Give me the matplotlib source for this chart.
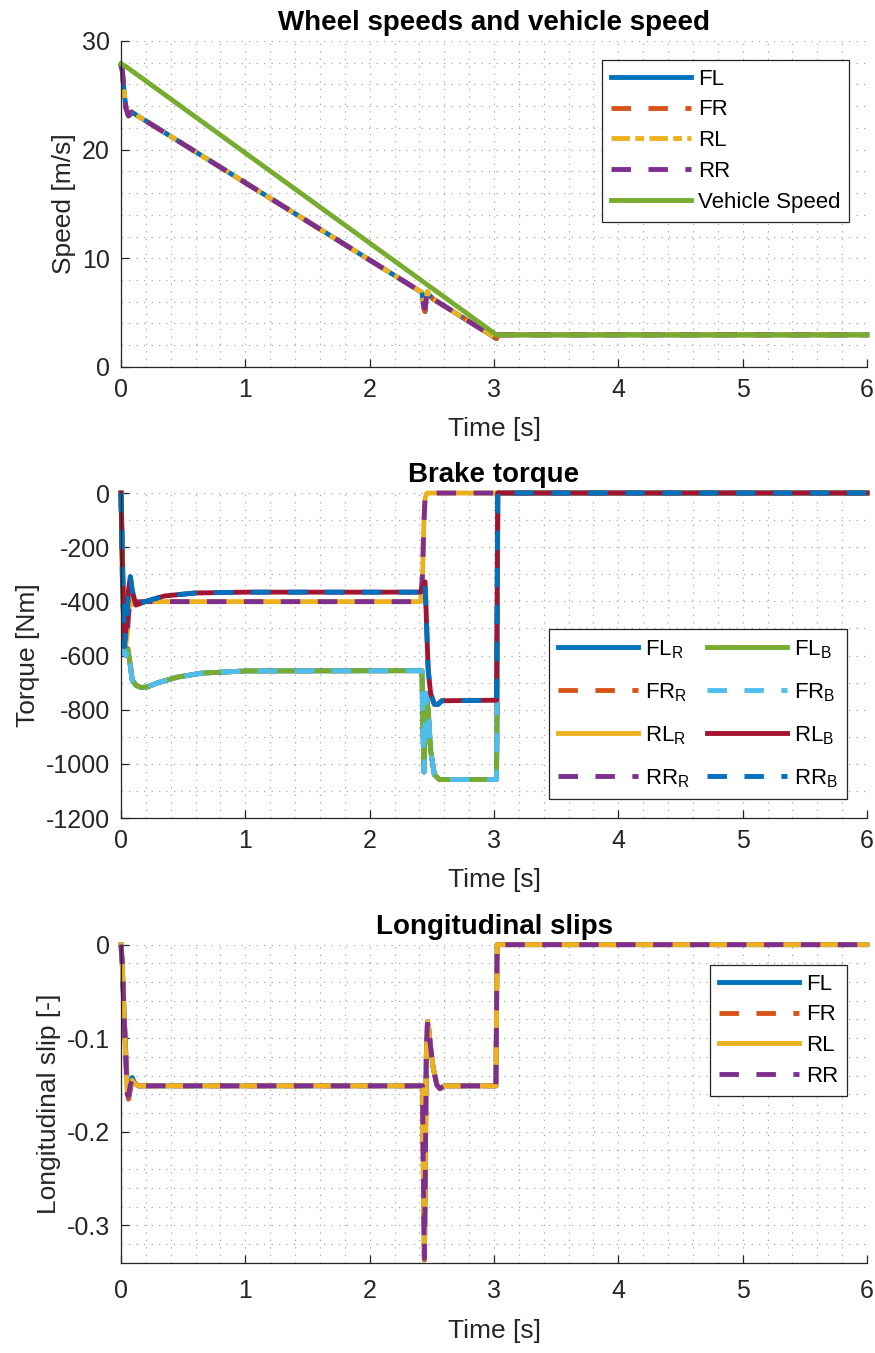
import matplotlib.pyplot as plt
from matplotlib.ticker import MultipleLocator

plt.rcParams['font.family'] = ['Liberation Sans', 'DejaVu Sans']
plt.rcParams['mathtext.fontset'] = 'custom'
plt.rcParams['mathtext.rm'] = 'Liberation Sans'
plt.rcParams['mathtext.it'] = 'Liberation Sans'
plt.rcParams['axes.unicode_minus'] = False

# MATLAB default colour order
c_blue = '#0072BD'
c_orange = '#D95319'
c_yellow = '#EDB120'
c_purple = '#7E2F8E'
c_green = '#77AC30'
c_cyan = '#4DBEEE'
c_red = '#A2142F'

# --- wheel speeds / vehicle speed [m/s] ---
t_vehicle = [0, 0.05, 3.02, 6]
v_vehicle = [27.9, 27.55, 2.95, 2.95]

t_wheel = [0, 0.01, 0.025, 0.04, 0.06, 0.07, 0.085, 2.42, 2.435, 2.445,
           2.455, 2.465, 2.48, 2.51, 3.02, 3.03, 6]
w_front = [27.7, 27.3, 25.3, 23.8, 23.1, 23.2, 23.45, 6.85, 5.4, 5.1,
           6.3, 6.9, 6.6, 6.25, 2.6, 2.95, 2.95]
w_rear = [27.7, 27.3, 25.3, 23.8, 23.1, 23.2, 23.45, 6.85, 5.6, 5.4,
          6.3, 6.95, 6.6, 6.25, 2.6, 2.95, 2.95]

# --- brake torque [Nm] ---
t_rear_R = [0, 0.01, 0.03, 0.05, 0.07, 0.09, 0.12, 0.2, 2.41, 2.425,
            2.435, 2.445, 2.46, 6]
T_rear_R = [0, -300, -590, -520, -390, -410, -402, -401, -401, -300,
            -120, -20, 0, 0]

t_rear_B = [0, 0.01, 0.027, 0.045, 0.06, 0.075, 0.09, 0.12, 0.2, 0.35,
            0.6, 1.0, 2.405, 2.43, 2.445, 2.455, 2.47, 2.49, 2.52, 2.55,
            2.58, 3.02, 3.03, 6]
T_rear_B = [0, -250, -567, -480, -360, -309, -360, -414, -400, -380,
            -369, -366, -366, -345, -328, -450, -650, -740, -780, -780,
            -767, -765, 0, 0]

t_front_B = [0, 0.01, 0.025, 0.04, 0.055, 0.07, 0.09, 0.12, 0.16, 0.21,
             0.3, 0.45, 0.65, 1.0, 2.42, 2.43, 2.437, 2.447, 2.455, 2.47,
             2.49, 2.52, 2.56, 3.02, 3.025, 3.03, 6]
T_front_B = [0, -200, -590, -600, -575, -620, -690, -710, -718, -716,
             -700, -680, -665, -657, -656, -900, -1030, -850, -740, -800,
             -950, -1040, -1058, -1058, -765, 0, 0]

# --- longitudinal slips [-] ---
t_slip = [0, 0.01, 0.03, 0.05, 0.06, 0.075, 0.09, 0.11, 0.14, 0.2, 2.425,
          2.432, 2.44, 2.447, 2.455, 2.465, 2.475, 2.49, 2.51, 2.54, 2.565,
          2.6, 3.015, 3.025, 6]
s_front = [0, -0.02, -0.09, -0.15, -0.165, -0.155, -0.142, -0.148, -0.151,
           -0.151, -0.151, -0.25, -0.337, -0.25, -0.12, -0.082, -0.09,
           -0.11, -0.131, -0.15, -0.154, -0.151, -0.151, 0, 0]
s_rear = [0, -0.02, -0.095, -0.16, -0.162, -0.15, -0.145, -0.149, -0.151,
          -0.151, -0.151, -0.25, -0.335, -0.25, -0.12, -0.082, -0.09,
          -0.11, -0.131, -0.15, -0.154, -0.151, -0.151, 0, 0]

lw = 3.5
dashed = (0, (4, 3.6))
dashdot = (0, (3.8, 1.1, 1.8, 1.1))

fig = plt.figure(figsize=(8.75, 13.53), dpi=100)
ax1 = fig.add_axes([0.1383, 0.7288, 0.8526, 0.2410])
ax2 = fig.add_axes([0.1383, 0.3954, 0.8526, 0.2402])
ax3 = fig.add_axes([0.1383, 0.0668, 0.8526, 0.2350])

tick_fs = 18
label_fs = 19
title_fs = 20
leg_fs = 16


def style(ax):
    ax.set_xlim(0, 6)
    ax.xaxis.set_major_locator(MultipleLocator(1))
    ax.xaxis.set_minor_locator(MultipleLocator(0.2))
    ax.set_axisbelow(True)
    ax.grid(which='both', linestyle=(0, (1, 5)), color='#a8a8a8', linewidth=0.9)
    for s in ['top', 'right']:
        ax.spines[s].set_visible(False)
    for s in ['left', 'bottom']:
        ax.spines[s].set_color('#262626')
        ax.spines[s].set_linewidth(0.9)
    ax.tick_params(which='major', direction='in', length=6, width=0.9, pad=8,
                   color='#262626', labelcolor='#262626', labelsize=tick_fs)
    ax.tick_params(which='minor', length=0)
    ax.set_xlabel('Time [s]', fontsize=label_fs, color='#262626', labelpad=11)


def legend(ax, x, y, **kw):
    leg = ax.legend(loc='upper right', bbox_to_anchor=(x, y), fontsize=leg_fs,
                    fancybox=False, framealpha=1, edgecolor='#262626',
                    borderaxespad=0, handlelength=3.6, handletextpad=0.3,
                    borderpad=0.4, **kw)
    leg.get_frame().set_linewidth(0.9)
    return leg


# top: speeds
ax1.plot(t_wheel, w_front, color=c_blue, lw=lw, label='FL', clip_on=False)
ax1.plot(t_wheel, w_front, color=c_orange, lw=lw, ls=dashed, label='FR', clip_on=False)
ax1.plot(t_wheel, w_rear, color=c_yellow, lw=lw, ls=dashdot, label='RL', clip_on=False)
ax1.plot(t_wheel, w_rear, color=c_purple, lw=lw, ls=dashed, label='RR', clip_on=False)
ax1.plot(t_vehicle, v_vehicle, color=c_green, lw=lw, label='Vehicle Speed', clip_on=False)
style(ax1)
ax1.set_ylim(0, 30)
ax1.yaxis.set_major_locator(MultipleLocator(10))
ax1.yaxis.set_minor_locator(MultipleLocator(2))
ax1.set_ylabel('Speed [m/s]', fontsize=label_fs, color='#262626')
ax1.set_title('Wheel speeds and vehicle speed', fontsize=title_fs, fontweight='bold', pad=8)
legend(ax1, 0.976, 0.942, labelspacing=0.44)

# middle: brake torque
ax2.plot(t_front_B, T_front_B, color=c_blue, lw=lw, label=r'FL$_\mathrm{R}$', clip_on=False)
ax2.plot(t_front_B, T_front_B, color=c_orange, lw=lw, ls=dashed, label=r'FR$_\mathrm{R}$', clip_on=False)
ax2.plot(t_rear_R, T_rear_R, color=c_yellow, lw=lw, label=r'RL$_\mathrm{R}$', clip_on=False)
ax2.plot(t_rear_R, T_rear_R, color=c_purple, lw=lw, ls=dashed, label=r'RR$_\mathrm{R}$', clip_on=False)
ax2.plot(t_front_B, T_front_B, color=c_green, lw=lw, label=r'FL$_\mathrm{B}$', clip_on=False)
ax2.plot(t_front_B, T_front_B, color=c_cyan, lw=lw, ls=dashed, label=r'FR$_\mathrm{B}$', clip_on=False)
ax2.plot(t_rear_B, T_rear_B, color=c_red, lw=lw, label=r'RL$_\mathrm{B}$', clip_on=False)
ax2.plot(t_rear_B, T_rear_B, color=c_blue, lw=lw, ls=dashed, label=r'RR$_\mathrm{B}$', clip_on=False)
style(ax2)
ax2.set_ylim(-1200, 0)
ax2.yaxis.set_major_locator(MultipleLocator(200))
ax2.yaxis.set_minor_locator(MultipleLocator(100))
ax2.set_ylabel('Torque [Nm]', fontsize=label_fs, color='#262626')
ax2.set_title('Brake torque', fontsize=title_fs, fontweight='bold', pad=8)
legend(ax2, 0.973, 0.5815, ncol=2, labelspacing=0.92, columnspacing=0.8)

# bottom: slips
ax3.plot(t_slip, s_front, color=c_blue, lw=lw, label='FL', clip_on=False)
ax3.plot(t_slip, s_front, color=c_orange, lw=lw, ls=dashed, label='FR', clip_on=False)
ax3.plot(t_slip, s_rear, color=c_yellow, lw=lw, label='RL', clip_on=False)
ax3.plot(t_slip, s_rear, color=c_purple, lw=lw, ls=dashed, label='RR', clip_on=False)
style(ax3)
ax3.xaxis.set_tick_params(pad=12)
ax3.set_ylim(-0.34, 0)
ax3.yaxis.set_minor_locator(MultipleLocator(0.02))
ax3.set_yticks([0, -0.1, -0.2, -0.3])
ax3.set_yticklabels(['0', '-0.1', '-0.2', '-0.3'])
ax3.set_ylabel('Longitudinal slip [-]', fontsize=label_fs, color='#262626')
ax3.set_title('Longitudinal slips', fontsize=title_fs, fontweight='bold', pad=8)
legend(ax3, 0.973, 0.937, labelspacing=0.44)

fig.savefig('out.png', dpi=100)
